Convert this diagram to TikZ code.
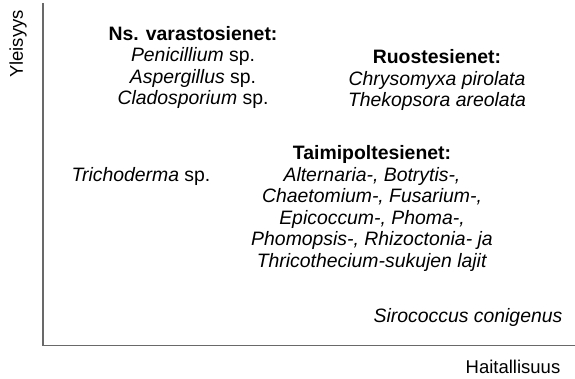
\documentclass[tikz,border=0pt]{standalone}
\usepackage{fontspec}
\setmainfont{Liberation Sans}
\usepackage{xcolor}
\usetikzlibrary{positioning}
\definecolor{axisgray}{RGB}{105,105,105}
\tikzstyle{lbl} = [font=\fontsize{19.4}{21.5}\selectfont, align=center, inner sep=0pt]
\tikzstyle{axislbl} = [font=\fontsize{18.5}{21.5}\selectfont, inner sep=0pt]
\tikzstyle{axisline} = [draw=axisgray, line width=1.6pt]

\begin{document}
\begin{tikzpicture}[x=1pt, y=-1pt]
    \useasboundingbox (0,0) rectangle (575,379);

    % axes
    \coordinate (ytop) at (43,3);
    \coordinate (origin) at (43,345.5);
    \coordinate (xend) at (575,345.5);
    \draw[axisline] (ytop) -- (origin) -- (xend);
    \node[axislbl, rotate=90] (yleisyys) at (18,44) {Yleisyys};
    \node[axislbl] (haitallisuus) at (513,367) {Haitallisuus};

    % fungus groups
    \node[lbl] (varasto) at (193,67.5)
        {\textbf{Ns. varastosienet:}\\\textit{Penicillium} sp.\\\textit{Aspergillus} sp.\\\textit{Cladosporium} sp.};
    \node[lbl] (ruoste) at (437,80)
        {\textbf{Ruostesienet:}\\\textit{Chrysomyxa pirolata}\\\textit{Thekopsora areolata}};
    \node[lbl] (taimi) at (372,208.5)
        {\textbf{Taimipoltesienet:}\\\textit{Alternaria-, Botrytis-,}\\\textit{Chaetomium-, Fusarium-,}\\\textit{Epicoccum-, Phoma-,}\\\textit{Phomopsis-, Rhizoctonia- ja}\\\textit{Thricothecium-sukujen lajit}};
    \node[lbl] (tricho) at (141,176) {\textit{Trichoderma} sp.};
    \node[lbl] (siro) at (468,317) {\textit{Sirococcus conigenus}};
\end{tikzpicture}
\end{document}
